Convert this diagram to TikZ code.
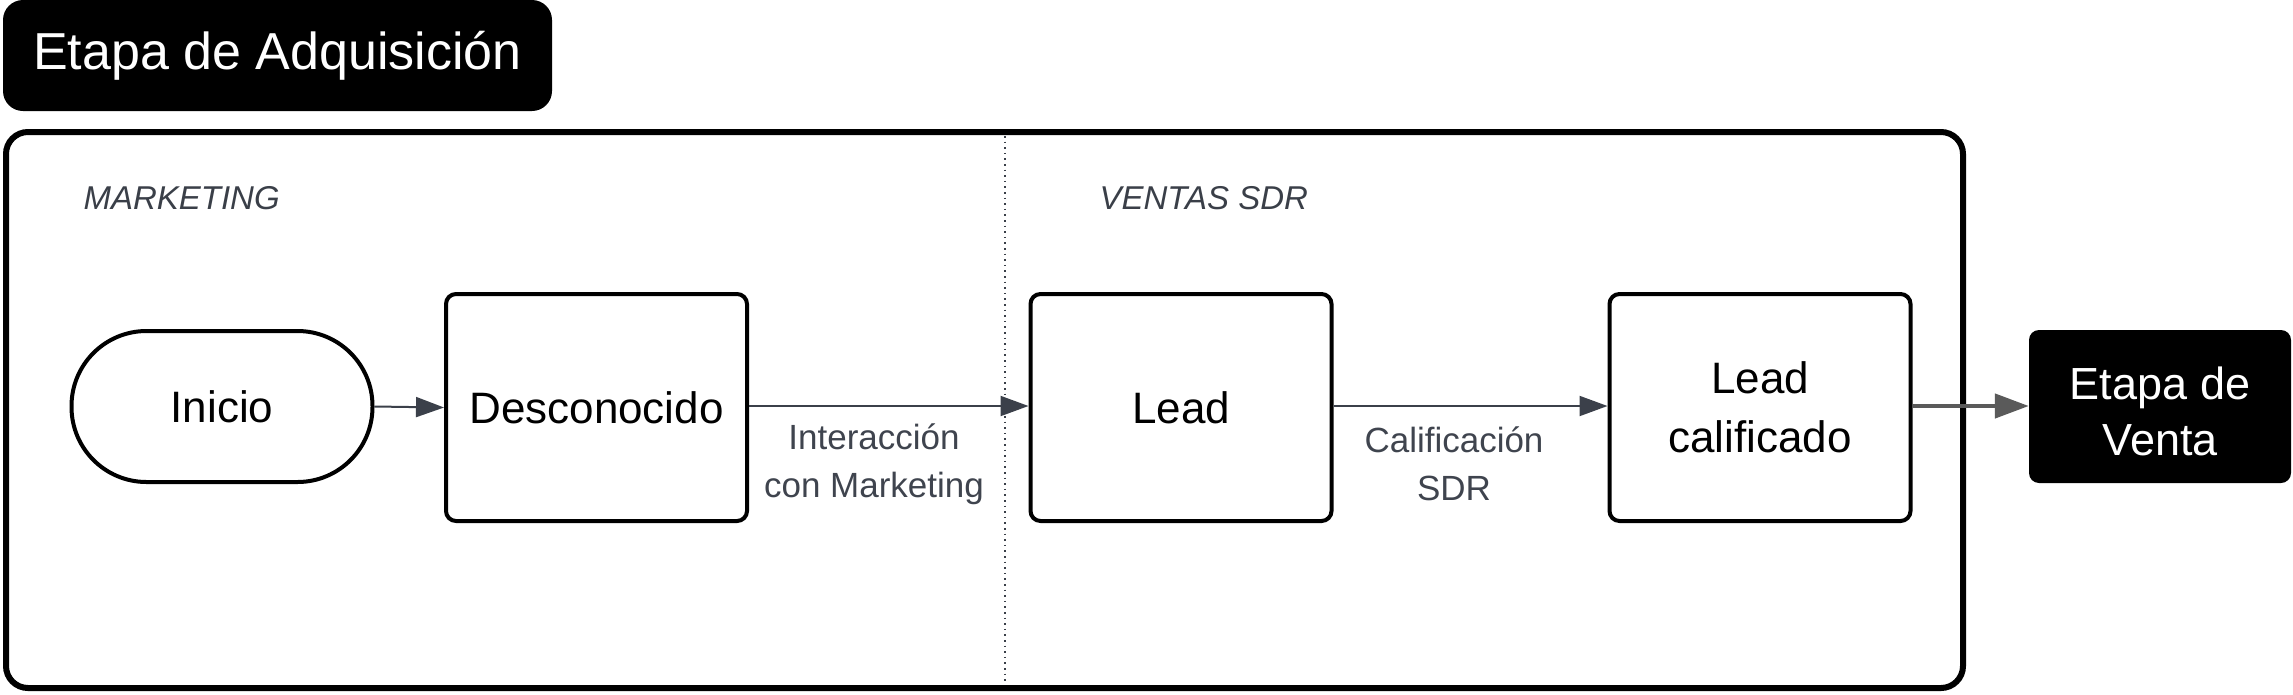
\documentclass[tikz,border=0pt]{standalone}
\usepackage{fontspec}
\setmainfont{Liberation Sans}
\usetikzlibrary{arrows.meta}
\definecolor{arrowgray}{HTML}{3B404A}
\definecolor{labelgray}{HTML}{3F444E}
\definecolor{lanegray}{HTML}{3A3F48}
\definecolor{outgray}{HTML}{5A5A5A}
\begin{document}
\begin{tikzpicture}[x=1pt,y=-1pt,
  stepbox/.style={draw, line width=4pt, rounded corners=10pt, minimum width=301pt, minimum height=227pt, inner sep=0pt, align=center, font=\fontsize{44}{59}\selectfont},
  startbox/.style={draw, line width=4pt, rounded corners=75pt, minimum width=301pt, minimum height=151pt, inner sep=0pt, font=\fontsize{44}{55}\selectfont},
  blackbox/.style={fill=black, text=white, rounded corners=10pt, inner sep=0pt, align=center},
  lanelabel/.style={anchor=west, text=lanegray, font=\itshape\fontsize{33}{38}\selectfont},
  edgelabel/.style={text=labelgray, align=center, font=\fontsize{35}{48}\selectfont},
  conn/.style={draw=arrowgray, line width=2pt, -{Triangle[length=28pt,width=20pt]}},
  outconn/.style={draw=outgray, line width=4.5pt, -{Triangle[length=34pt,width=24pt]}}
]
\useasboundingbox (0,0) rectangle (2293,694);
% title
\node[blackbox, minimum width=549pt, minimum height=111pt, rounded corners=20pt, font=\fontsize{52}{60}\selectfont] (title) at (277.5,55.5) {Etapa de Adquisición};
% frame
\draw[line width=6pt, rounded corners=22pt] (6,132) rectangle (1963,688);
\coordinate (divtop) at (1005,136);
\coordinate (divbot) at (1005,684);
\draw[lanegray, line width=1.6pt, dash pattern=on 1.6pt off 4pt] (divtop) -- (divbot);
% lane labels
\node[lanelabel] (mkt) at (80,198) {MARKETING};
\node[lanelabel] (sdr) at (1096,198) {VENTAS SDR};
% nodes
\node[startbox] (inicio) at (222,406.5) {Inicio};
\node[stepbox] (desc) at (596.5,407.5) {Desconocido};
\node[stepbox] (lead) at (1181,407.5) {Lead};
\node[stepbox] (leadc) at (1760,407.5) {Lead\\calificado};
\node[blackbox, minimum width=262pt, minimum height=153pt] (venta) at (2160,406.5) {};
\node[text=white, align=center, inner sep=0pt, font=\fontsize{45}{56}\selectfont] (ventatext) at (2160,411) {Etapa de\\Venta};
% connectors
\draw[conn] (inicio.east) -- (desc.west);
\draw[conn] (desc.east |- 0,406) -- (lead.west |- 0,406);
\draw[conn] (lead.east |- 0,406) -- (leadc.west |- 0,406);
\draw[outconn] (leadc.east |- 0,406) -- (venta.west |- 0,406);
% edge labels
\node[edgelabel] (l1) at (874,464) {Interacción\\con Marketing};
\node[edgelabel] (l2) at (1454,464) {Calificación\\SDR};
\end{tikzpicture}
\end{document}
